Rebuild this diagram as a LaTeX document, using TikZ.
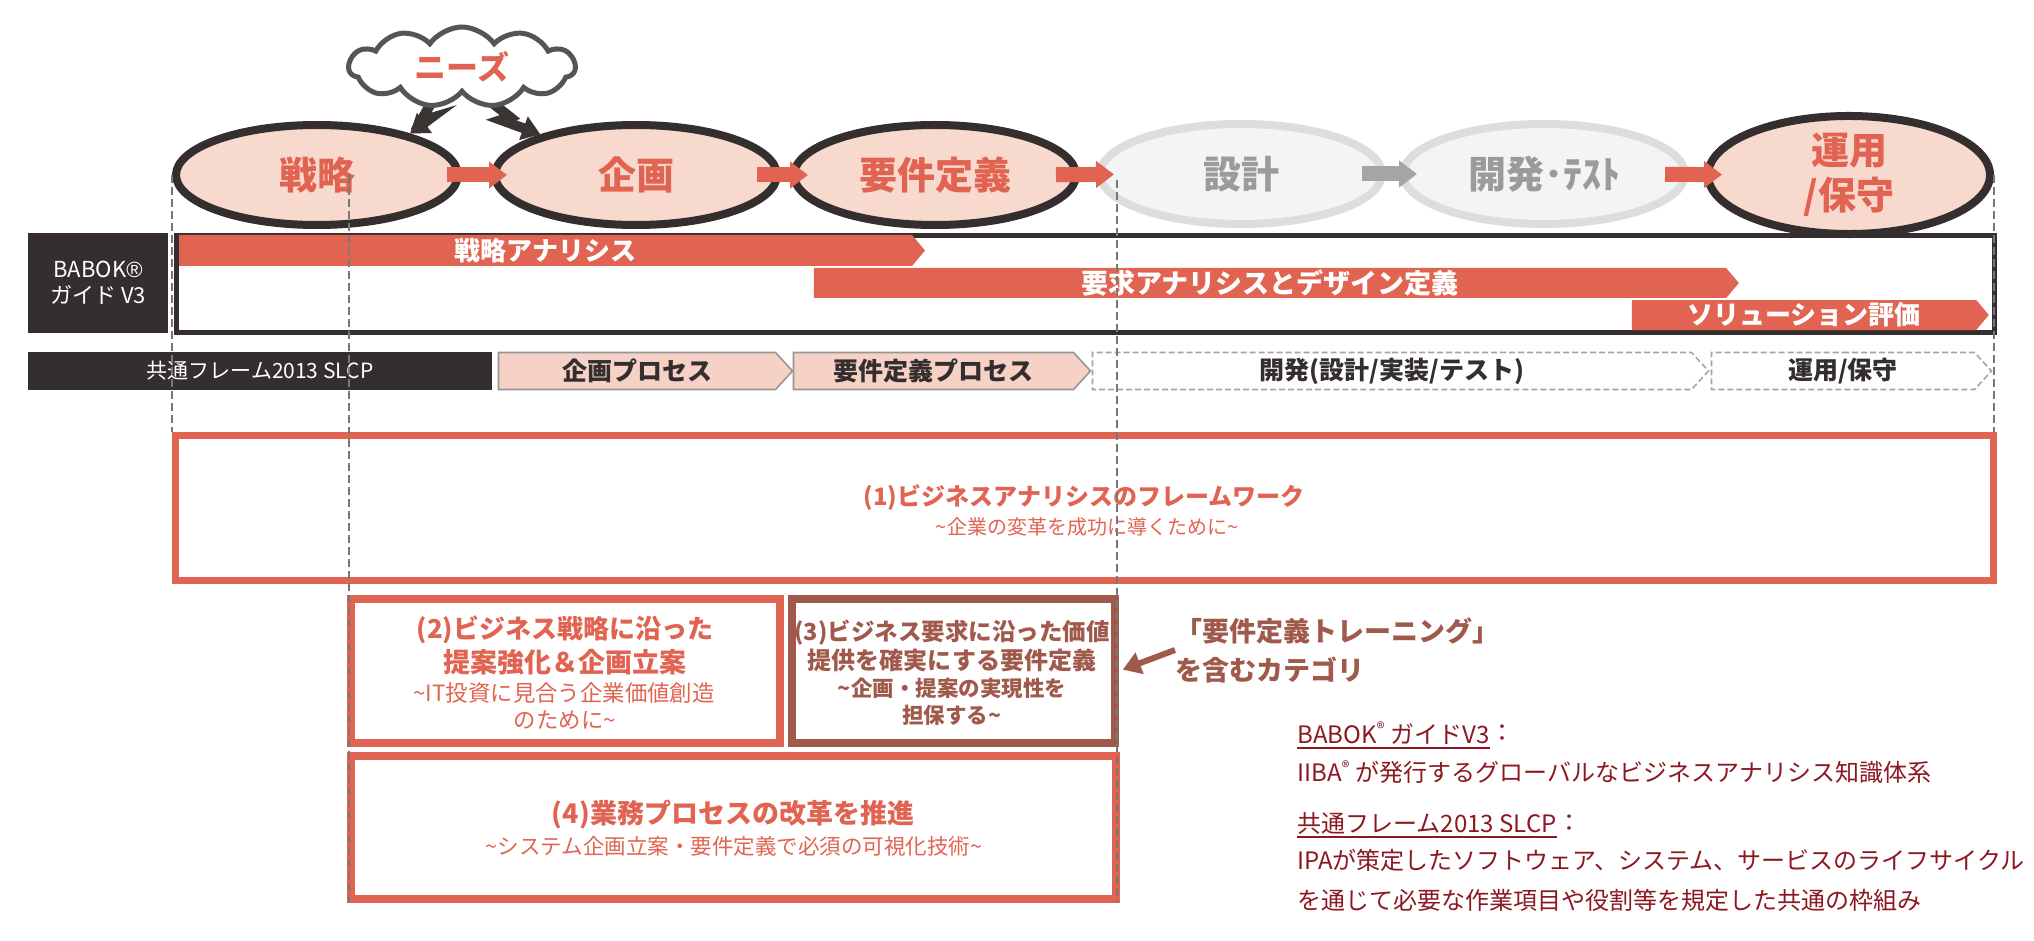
\documentclass[tikz,border=0pt]{standalone}
\usepackage{fontspec}
\setmainfont{Noto Sans CJK JP}
\newfontfamily\symfont{Liberation Sans}
\usetikzlibrary{shapes.geometric,shapes.symbols,arrows.meta,calc}
\definecolor{myred}{RGB}{225,100,82}
\definecolor{mypink}{RGB}{247,217,206}
\definecolor{procpink}{RGB}{246,210,198}
\definecolor{mydark}{RGB}{52,47,46}
\definecolor{mybrown}{RGB}{160,90,75}
\definecolor{lgred}{RGB}{140,24,34}
\definecolor{ellgray}{RGB}{221,221,221}
\definecolor{ellfill}{RGB}{243,245,245}
\definecolor{elltext}{RGB}{155,155,155}
\definecolor{arrgray}{RGB}{165,165,165}
\definecolor{procgray}{RGB}{150,150,150}
\definecolor{dashgray}{RGB}{165,165,165}
\definecolor{vdashc}{RGB}{120,120,120}
\definecolor{cloudc}{RGB}{85,85,85}
\definecolor{boltc}{RGB}{58,52,50}
\begin{document}
\begin{tikzpicture}[x=0.5pt,y=-0.5pt,
  ell/.style={ellipse, draw=mydark, line width=4pt, fill=mypink, minimum width=141pt, minimum height=50pt, inner sep=0pt, text=myred, align=center, font=\fontsize{19}{22.5}\selectfont\bfseries},
  gell/.style={ell, draw=ellgray, fill=ellfill, text=elltext},
  flowarr/.style={draw=myred, line width=7.5pt, -{Triangle[length=9pt,width=13pt]}, shorten <=-12pt, shorten >=-9pt},
  bolt/.style={draw=boltc, line width=5pt, line join=miter, -{Triangle[length=9pt,width=12pt]}},
  darkbox/.style={rectangle, fill=mydark, inner sep=0pt, text=white, align=center},
  flowbar/.style={signal, signal to=east, signal pointer angle=100, fill=myred, inner sep=0pt, text=white, font=\fontsize{13}{15}\selectfont\bfseries},
  proc/.style={signal, signal to=east, signal pointer angle=95, fill=procpink, draw=procgray, line width=0.8pt, inner sep=0pt, minimum height=18.5pt, text=mydark, font=\fontsize{12.5}{15}\selectfont\bfseries},
  dproc/.style={proc, fill=white, draw=dashgray, dash pattern=on 3pt off 1.5pt},
  boxframe/.style={rectangle, inner sep=0pt},
  vdash/.style={draw=vdashc, line width=0.75pt, dash pattern=on 4pt off 2pt},
  legtxt/.style={anchor=west, inner sep=0pt, text=lgred, font=\fontsize{12}{14}\selectfont},
  txt/.style={inner sep=0pt},
]
\useasboundingbox (0,0) rectangle (2034,941);
\fill[white] (0,0) rectangle (2034,941);

% ---- phase ellipses
\node[ell]  (s1) at (317,175) {戦略};
\node[ell]  (s2) at (636,175) {企画};
\node[ell]  (s3) at (935,175) {要件定義};
\node[gell] (s4) at (1241,174) {設計};
\node[gell] (s5) at (1544,174) {開発･ﾃｽﾄ};
\node[ell]  (s6) at (1849,175) {運用\\/保守};

\draw[flowarr, shorten <=-7.5pt, shorten >=-8pt] (s1) -- (s2);
\draw[flowarr] (s2) -- (s3);
\draw[flowarr] (s3) -- (s4);
\draw[flowarr, draw=arrgray] (s4) -- (s5);
\draw[flowarr] (s5) -- (s6);

% ---- needs cloud
\coordinate (b1s) at (434,98);
\coordinate (b1k) at (421,121);
\coordinate (b1m) at (431,118);
\coordinate (b2s) at (486,98);
\coordinate (b2k) at (510,117);
\coordinate (b2m) at (501,120);
\draw[bolt] (b1s) -- (b1k) -- (b1m) -- (s1.24);
\draw[bolt] (b2s) -- (b2k) -- (b2m) -- (s2.157);
\node[cloud, cloud puffs=11, cloud puff arc=110, aspect=2.8, draw=cloudc, line width=2.5pt, fill=white,
      minimum width=113pt, minimum height=40pt, inner sep=0pt, text=myred,
      font=\fontsize{16}{19}\selectfont\bfseries] (cloud) at (462,67) {ニーズ};

% ---- BABOK row
\node[darkbox, minimum width=70pt, minimum height=50pt, font=\fontsize{11}{13}\selectfont] (babok) at (98,283) {BABOK{\symfont ®}\\ガイド V3};
\node[boxframe, draw=mydark, line width=2.5pt, minimum width=909pt, minimum height=48.5pt] (bframe) at (1085.5,284) {};
\node[flowbar, minimum width=373pt, minimum height=15.5pt] (ba1) at (545.5,250.5) {戦略アナリシス};
\node[flowbar, minimum width=462.5pt, minimum height=15pt, font=\fontsize{13.5}{15}\selectfont\bfseries] (ba2) at (1270,283) {要求アナリシスとデザイン定義};
\node[flowbar, minimum width=178.5pt, minimum height=15pt] (ba3) at (1804,315) {ソリューション評価};

% ---- SLCP row
\node[darkbox, minimum width=232pt, minimum height=19pt, font=\fontsize{10.5}{13}\selectfont] (slcp) at (260,371) {共通フレーム2013 SLCP};
\node[proc, minimum width=147pt] (p1) at (637,371) {企画プロセス};
\node[proc, minimum width=148.5pt] (p2) at (933.5,371) {要件定義プロセス};
\node[dproc, minimum width=308pt] (p3) at (1392,371) {開発(設計/実装/テスト)};
\node[dproc, minimum width=140pt] (p4) at (1843,371) {運用/保守};

% ---- category boxes
\node[boxframe, draw=myred, line width=3.5pt, minimum width=909pt, minimum height=72.5pt] (box1) at (1084.5,508) {};
\node[txt, text=myred, font=\fontsize{12}{14}\selectfont\bfseries] (t1a) at (1084,497) {(1)ビジネスアナリシスのフレームワーク};
\node[txt, text=myred, font=\fontsize{10}{12}\selectfont] (t1b) at (1087,527) {\char"007E 企業の変革を成功に導くために\char"007E};

\node[boxframe, draw=myred, line width=4pt, minimum width=214.5pt, minimum height=72pt] (box2) at (565.5,671) {};
\node[txt, text=myred, font=\fontsize{13}{15}\selectfont\bfseries] (t2a) at (565,630) {(2)ビジネス戦略に沿った};
\node[txt, text=myred, font=\fontsize{13.5}{15}\selectfont\bfseries] (t2b) at (565,662) {提案強化＆企画立案};
\node[txt, text=myred, font=\fontsize{11.2}{13}\selectfont] (t2c) at (564,693) {\char"007E IT投資に見合う企業価値創造};
\node[txt, text=myred, font=\fontsize{11.2}{13}\selectfont] (t2d) at (565,720) {のために\char"007E};

\node[boxframe, draw=mybrown, line width=4pt, minimum width=161.5pt, minimum height=72pt] (box3) at (953.5,671) {};
\node[txt, text=mybrown, font=\fontsize{11.75}{14}\selectfont\bfseries] (t3a) at (952,633) {(3)ビジネス要求に沿った価値};
\node[txt, text=mybrown, font=\fontsize{12}{14}\selectfont\bfseries] (t3b) at (952,660) {提供を確実にする要件定義};
\node[txt, text=mybrown, font=\fontsize{10.75}{13}\selectfont\bfseries] (t3c) at (952,688) {\char"007E 企画・提案の実現性を};
\node[txt, text=mybrown, font=\fontsize{10.75}{13}\selectfont\bfseries] (t3d) at (952,715) {担保する\char"007E};

\node[boxframe, draw=myred, line width=4pt, minimum width=382.5pt, minimum height=71.5pt] (box4) at (733.5,827.5) {};
\node[txt, text=myred, font=\fontsize{13.5}{15}\selectfont\bfseries] (t4a) at (733,815) {(4)業務プロセスの改革を推進};
\node[txt, text=myred, font=\fontsize{10.75}{13}\selectfont] (t4b) at (734,846) {\char"007E システム企画立案・要件定義で必須の可視化技術\char"007E};

% ---- callout
\node[anchor=west, inner sep=0pt, align=left, text=mybrown, font=\fontsize{13.5}{19.5}\selectfont\bfseries] (callout) at (1175,650) {「要件定義トレーニング」\\を含むカテゴリ};
\draw[draw=mybrown, line width=3pt, -{Triangle[length=9pt,width=11pt]}, shorten >=2pt] (callout.west) -- (box3.east);

% ---- legend
\node[legtxt] (lg1) at (1297,733) {BABOK\textsuperscript{®} ガイドV3};
\node[legtxt] (lg1c) at (lg1.east) {：};
\node[legtxt] (lg2) at (1297,772) {IIBA\textsuperscript{®} が発行するグローバルなビジネスアナリシス知識体系};
\node[legtxt] (lg3) at (1297,823) {共通フレーム2013 SLCP};
\node[legtxt] (lg3c) at (lg3.east) {：};
\node[legtxt] (lg4) at (1297,860) {IPAが策定したソフトウェア、システム、サービスのライフサイクル};
\node[legtxt] (lg5) at (1297,900) {を通じて必要な作業項目や役割等を規定した共通の枠組み};
\draw[draw=lgred, line width=1pt] ([yshift=-1.5pt]lg1.south west) -- ([yshift=-1.5pt]lg1.south east);
\draw[draw=lgred, line width=1pt] ([yshift=-1.5pt]lg3.south west) -- ([yshift=-1.5pt]lg3.south east);

% ---- dashed guide lines
\coordinate (d2top) at (349,175);
\coordinate (d3top) at (1117,180);
\draw[vdash] (s1.west) -- (s1.west |- box1.north);
\draw[vdash] (d2top) -- (d2top |- box4.south);
\draw[vdash] (d3top) -- (d3top |- box4.south);
\draw[vdash] (s6.east) -- (s6.east |- box1.north);
\end{tikzpicture}
\end{document}
